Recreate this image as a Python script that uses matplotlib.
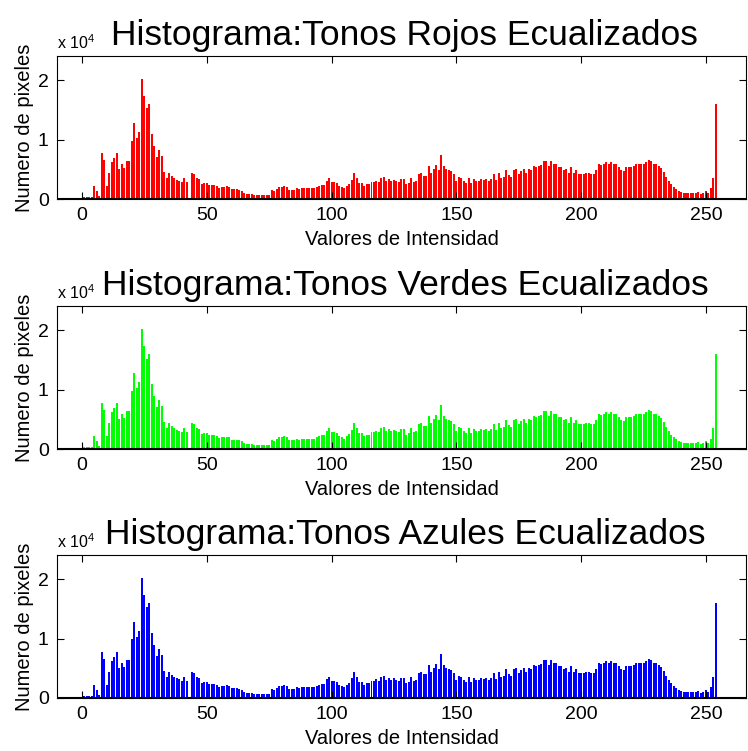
import numpy as np
import matplotlib
matplotlib.use('Agg')
import matplotlib.pyplot as plt

plt.rcParams['font.family'] = ['Liberation Sans', 'DejaVu Sans']
plt.rcParams['mathtext.fontset'] = 'custom'
plt.rcParams['mathtext.rm'] = 'Liberation Sans'

# niveles de intensidad 0..255 y cuenta de pixeles (igual en los tres canales)
niveles = np.arange(256)
cuentas = [
    0, 280, 280, 280, 280, 2170, 1330, 440, 7670, 6500,
    2170, 4330, 6170, 6840, 7670, 5000, 5890, 5280, 6340, 6340,
    9840, 12840, 10280, 11340, 20120, 17290, 15230, 15950, 10950, 8890,
    7000, 8280, 7170, 4610, 3500, 4330, 3890, 3500, 3280, 3110,
    2840, 3500, 2840, 0, 4330, 4170, 3500, 3340, 2560, 2670,
    2670, 2390, 2390, 2390, 2170, 1830, 2000, 2000, 2110, 2000,
    1610, 1610, 1610, 1500, 1330, 950, 890, 780, 830, 670,
    670, 670, 670, 670, 670, 670, 1450, 1330, 1720, 2000,
    2000, 2170, 2000, 1500, 1500, 1500, 1780, 1610, 1780, 1780,
    1780, 1780, 1780, 1780, 2000, 2170, 2390, 2390, 3110, 3500,
    2840, 2840, 2670, 2170, 2000, 1780, 2170, 2500, 3280, 4390,
    3500, 2670, 2670, 2220, 2450, 2450, 2840, 2840, 3110, 2840,
    3610, 3780, 3060, 3340, 3060, 3280, 3060, 2840, 3340, 3340,
    2450, 2670, 3500, 2840, 3060, 4230, 4390, 3950, 3950, 5500,
    4390, 5000, 5670, 4840, 7450, 5500, 5000, 4840, 4670, 4170,
    3060, 3780, 3560, 3060, 2670, 3500, 2670, 3340, 3060, 3060,
    3340, 3220, 3340, 3060, 3340, 4230, 3220, 4390, 3560, 3780,
    4840, 4000, 3780, 4840, 5000, 4230, 4670, 5000, 4390, 5000,
    4840, 5500, 5340, 5500, 5670, 6340, 6340, 5500, 6340, 5950,
    5950, 5340, 5340, 4840, 5000, 4390, 5340, 4390, 4840, 4170,
    4170, 4170, 4390, 4390, 4170, 4170, 4840, 5950, 5670, 5840,
    6170, 5950, 6170, 5950, 5840, 5340, 4840, 4670, 5340, 5340,
    5340, 5500, 5950, 5950, 5950, 5950, 6170, 6500, 6340, 5950,
    5840, 5500, 5170, 4500, 3780, 3000, 2450, 2060, 1670, 1390,
    1170, 1060, 1000, 950, 950, 950, 950, 1220, 830, 1060,
    1280, 950, 1780, 3500, 16000, 0,
]

titulos = ['Histograma:Tonos Rojos Ecualizados',
           'Histograma:Tonos Verdes Ecualizados',
           'Histograma:Tonos Azules Ecualizados']
colores = ['#ff0000', '#00ff00', '#0000ff']

fig = plt.figure(figsize=(7.48, 7.51), dpi=100)

fondos = [0.735, 0.402, 0.0706]
for titulo, color, fondo in zip(titulos, colores, fondos):
    ax = fig.add_axes([0.0762, fondo, 0.921, 0.190])
    ax.bar(niveles, cuentas, width=0.8, color=color, linewidth=0)
    ax.axhline(0, color='k', lw=1.5)
    ax.set_xlim(-10, 266)
    ax.set_ylim(0, 2.4e4)
    ax.set_xticks([0, 50, 100, 150, 200, 250])
    ax.set_yticks([0, 1e4, 2e4])
    ax.set_yticklabels(['0', '1', '2'])
    ax.tick_params(direction='in', length=5, width=0.8, labelsize=14,
                   top=True, right=True, pad=6)
    for s in ax.spines.values():
        s.set_linewidth(0.8)
    ax.set_title(titulo, fontsize=25.5, pad=8, x=0.505)
    ax.set_xlabel('Valores de Intensidad', fontsize=14.5, labelpad=4)
    ax.set_ylabel('Numero de pixeles', fontsize=14.5, labelpad=3)
    ax.text(0.0, 1.03, r'x 10$^{4}$', transform=ax.transAxes,
            fontsize=11.5, ha='left', va='bottom')

fig.savefig('out.png', dpi=100)
